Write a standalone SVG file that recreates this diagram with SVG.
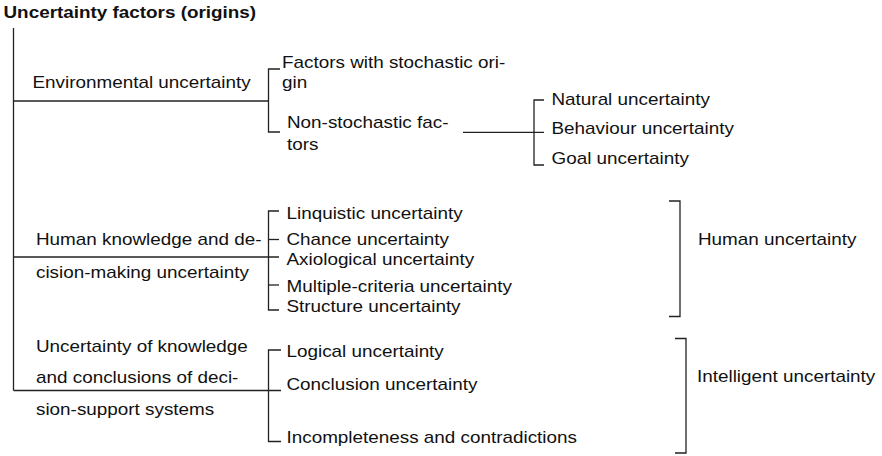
<svg xmlns="http://www.w3.org/2000/svg" width="882" height="456" viewBox="0 0 882 456">
  <style>
    .t { font-family: "Liberation Sans", Arial, sans-serif; font-size: 16px; fill: #111; }
    .b { font-weight: bold; }
    .ln { stroke: #222; stroke-width: 1.3; fill: none; }
  </style>
  <rect width="882" height="456" fill="#fff"/>

  <!-- Title -->
  <g id="title">
    <text class="t b" transform="matrix(1.18 0 0 1 3.5 18)">Uncertainty factors (origins)</text>
  </g>

  <!-- Connectors: trunk, branches and brackets -->
  <g id="connectors" class="ln">
    <!-- trunk -->
    <path d="M13.5 28 V390.5"/>
    <!-- environmental branch -->
    <path d="M13.5 101 H268.5"/>
    <path d="M280 69 H268.5 V132 H280"/>
    <!-- non-stochastic branch -->
    <path d="M463 132.3 H544"/>
    <path d="M544 100 H534 V165 H544"/>
    <!-- human knowledge branch -->
    <path d="M13.5 257 H279"/>
    <path d="M279 211 H268.5 V310 H279"/>
    <path d="M268.5 239.5 H279"/>
    <path d="M268.5 285 H279"/>
    <!-- decision-support branch -->
    <path d="M13.5 390.5 H281"/>
    <path d="M281 350 H268.5 V441.5 H281"/>
    <!-- right-hand grouping brackets -->
    <path d="M669 201 H680 V316.5 H669"/>
    <path d="M675 338.5 H686 V453 H675"/>
  </g>

  <!-- Level 1 nodes -->
  <g id="environmental">
    <text class="t" transform="matrix(1.18 0 0 1 32.5 88)">Environmental uncertainty</text>
  </g>
  <g id="human-knowledge">
    <text class="t" transform="matrix(1.18 0 0 1 36 245)">Human knowledge and de-</text>
    <text class="t" transform="matrix(1.18 0 0 1 36 278)">cision-making uncertainty</text>
  </g>
  <g id="decision-support">
    <text class="t" transform="matrix(1.18 0 0 1 36 351.5)">Uncertainty of knowledge</text>
    <text class="t" transform="matrix(1.18 0 0 1 36 383)">and conclusions of deci-</text>
    <text class="t" transform="matrix(1.18 0 0 1 36 414.5)">sion-support systems</text>
  </g>

  <!-- Environmental sub-factors -->
  <g id="stochastic">
    <text class="t" transform="matrix(1.18 0 0 1 282 68)">Factors with stochastic ori-</text>
    <text class="t" transform="matrix(1.18 0 0 1 282 87.5)">gin</text>
  </g>
  <g id="non-stochastic">
    <text class="t" transform="matrix(1.18 0 0 1 287 127.5)">Non-stochastic fac-</text>
    <text class="t" transform="matrix(1.18 0 0 1 287 149.5)">tors</text>
  </g>
  <g id="natural">
    <text class="t" transform="matrix(1.18 0 0 1 551.5 105)">Natural uncertainty</text>
  </g>
  <g id="behaviour">
    <text class="t" transform="matrix(1.18 0 0 1 551.5 134)">Behaviour uncertainty</text>
  </g>
  <g id="goal">
    <text class="t" transform="matrix(1.18 0 0 1 551.5 163.5)">Goal uncertainty</text>
  </g>

  <!-- Human knowledge sub-factors -->
  <g id="linquistic">
    <text class="t" transform="matrix(1.18 0 0 1 286.5 218.5)">Linquistic uncertainty</text>
  </g>
  <g id="chance">
    <text class="t" transform="matrix(1.18 0 0 1 286.5 245)">Chance uncertainty</text>
  </g>
  <g id="axiological">
    <text class="t" transform="matrix(1.18 0 0 1 286.5 265)">Axiological uncertainty</text>
  </g>
  <g id="multiple-criteria">
    <text class="t" transform="matrix(1.18 0 0 1 286.5 291.5)">Multiple-criteria uncertainty</text>
  </g>
  <g id="structure">
    <text class="t" transform="matrix(1.18 0 0 1 286.5 311.5)">Structure uncertainty</text>
  </g>

  <!-- Decision-support sub-factors -->
  <g id="logical">
    <text class="t" transform="matrix(1.18 0 0 1 286.5 356.5)">Logical uncertainty</text>
  </g>
  <g id="conclusion">
    <text class="t" transform="matrix(1.18 0 0 1 286.5 390)">Conclusion uncertainty</text>
  </g>
  <g id="incompleteness">
    <text class="t" transform="matrix(1.18 0 0 1 286.5 442.5)">Incompleteness and contradictions</text>
  </g>

  <!-- Grouping labels -->
  <g id="human-uncertainty">
    <text class="t" transform="matrix(1.18 0 0 1 698 245)">Human uncertainty</text>
  </g>
  <g id="intelligent-uncertainty">
    <text class="t" transform="matrix(1.18 0 0 1 697 381.5)">Intelligent uncertainty</text>
  </g>
</svg>
